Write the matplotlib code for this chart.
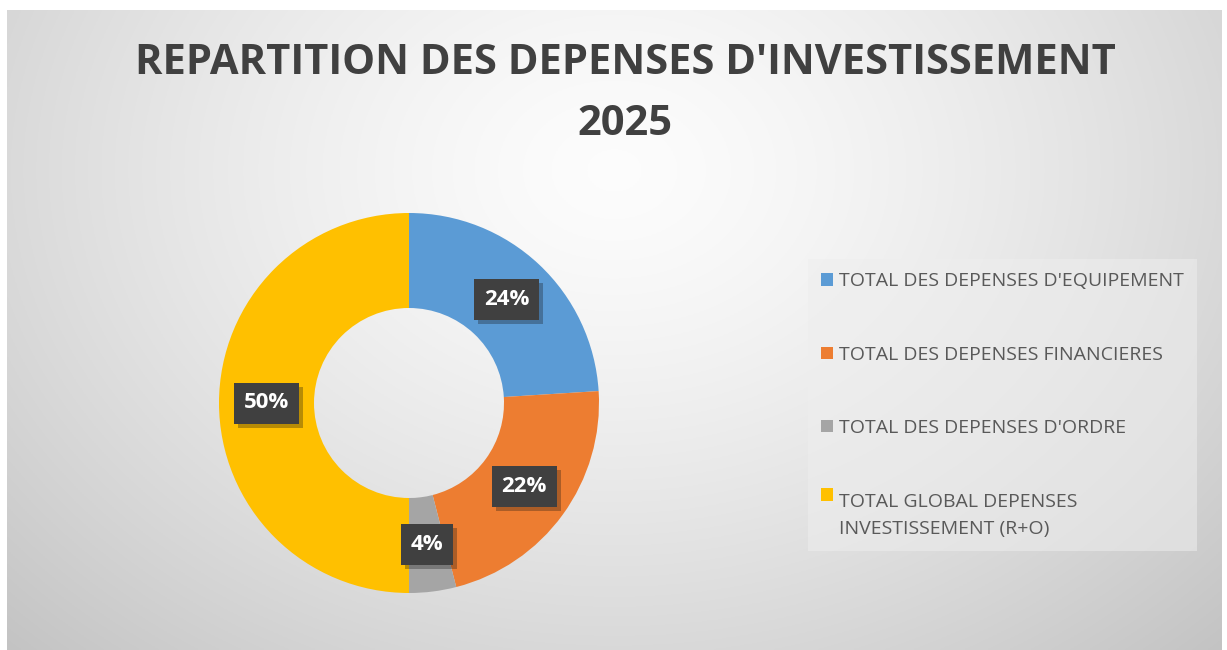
import numpy as np
import matplotlib
matplotlib.use("Agg")
import matplotlib.pyplot as plt
import matplotlib.patheffects as pe

# Chart data
categories = ["TOTAL DES DEPENSES D'EQUIPEMENT",
              "TOTAL DES DEPENSES FINANCIERES",
              "TOTAL DES DEPENSES D'ORDRE",
              "TOTAL GLOBAL DEPENSES\nINVESTISSEMENT (R+O)"]
shares = [24, 22, 4, 50]
colors = ["#5b9bd5", "#ed7d31", "#a5a5a5", "#ffc000"]
title = "REPARTITION DES DEPENSES D'INVESTISSEMENT\n2025"

W, H = 1227, 650
fig = plt.figure(figsize=(W / 100, H / 100), dpi=100)
fig.patch.set_facecolor("white")

# Gradient background (light centre, grey edges)
bg = fig.add_axes([7 / W, 0, (1222 - 7) / W, (650 - 10) / H])
yy, xx = np.mgrid[0:1:300j, 0:1:600j]
d = np.sqrt(((xx - 0.5) / 0.75) ** 2 + ((yy - 0.25) / 1.1) ** 2)
shade = 0.99 - 0.24 * np.clip(d, 0, 1) ** 1.4
bg.imshow(np.dstack([shade, shade, shade]), aspect="auto", extent=[0, 1, 1, 0])
bg.set_axis_off()

# Title
fig.text(625 / W, 1 - 94 / H, title, ha="center", va="center",
         fontsize=30, fontweight="bold", color="#404040",
         family="Open Sans", linespacing=1.65)

# Donut
cx, cy, R = 409, 403, 190
ax = fig.add_axes([(cx - R) / W, 1 - (cy + R) / H, 2 * R / W, 2 * R / H])
wedges, _ = ax.pie(shares, colors=colors, startangle=90, counterclock=False,
                   radius=1.0, wedgeprops=dict(width=0.5, edgecolor="none"))
ax.set_xlim(-1, 1)
ax.set_ylim(-1, 1)
ax.set_aspect("equal")
ax.set_axis_off()

# Percent labels in dark boxes at ring middle
start = 90.0
for v in shares:
    mid = np.deg2rad(start - v / 2 * 3.6)
    start -= v * 3.6
    x, y = 0.75 * np.cos(mid), 0.75 * np.sin(mid)
    t = ax.text(x, y, f"{v}%", ha="center", va="center", fontsize=16,
                fontweight="bold", color="white", family="Open Sans",
                bbox=dict(boxstyle="square,pad=0.45", fc="#404040", ec="none"))
    t.get_bbox_patch().set_path_effects(
        [pe.SimplePatchShadow(offset=(3, -3), alpha=0.3), pe.Normal()])

# Legend
leg = fig.legend(wedges, categories, loc="upper left",
                 bbox_to_anchor=(798 / W, 1 - 249 / H),
                 frameon=True, fancybox=False, framealpha=0.55,
                 facecolor="#eeeeee", edgecolor="none",
                 prop=dict(family="Open Sans", size=14),
                 handlelength=0.6, handleheight=0.6, handletextpad=0.3,
                 labelspacing=2.85, borderpad=0.7)
for t in leg.get_texts():
    t.set_color("#595959")
    t.set_linespacing(1.65)
# put the marker of the two-line entry next to its first line
last = leg.legend_handles[-1]
last.set_y(last.get_y() + 15)

fig.savefig("out.png", dpi=100)
